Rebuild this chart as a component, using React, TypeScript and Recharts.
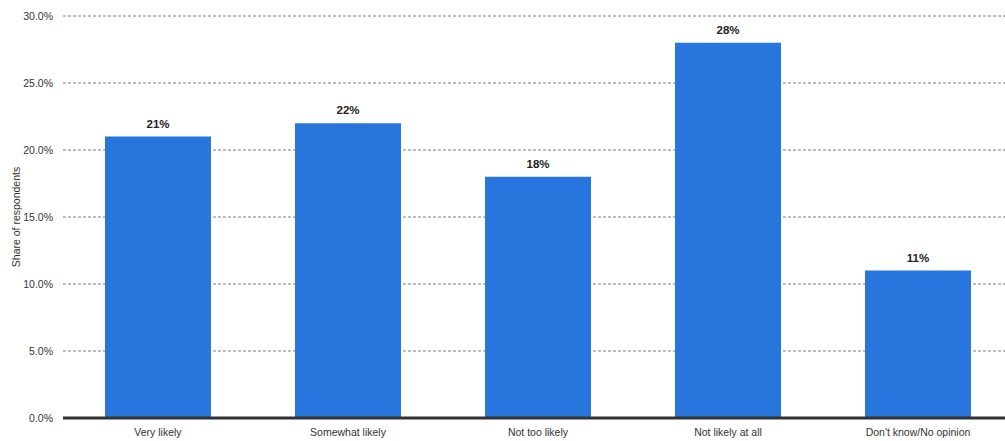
import React from "react";
import { BarChart, Bar, XAxis, YAxis, CartesianGrid, LabelList, Label } from "recharts";

const categories = ["Very likely", "Somewhat likely", "Not too likely", "Not likely at all", "Don't know/No opinion"];
const shares = [21, 22, 18, 28, 11];
const yTicks = [0, 5, 10, 15, 20, 25, 30];

const data = categories.map((c, i) => ({ name: c, value: shares[i] }));

const font = "Liberation Sans, Arial, sans-serif";

export default function App() {
  return (
    <div style={{ position: "fixed", left: 0, top: 0, width: 1005, height: 441, overflow: "hidden", background: "#fff" }}>
      <style>{`html,body{margin:0;padding:0;overflow:hidden;}`}</style>
      <BarChart
        width={1013}
        height={441}
        data={data}
        margin={{ top: 16, right: 0, bottom: 0, left: 0 }}
        barSize={106}
      >
        <CartesianGrid vertical={false} stroke="#7a7a7a" strokeDasharray="3 2" />
        <XAxis
          dataKey="name"
          height={23}
          axisLine={{ stroke: "#333", strokeWidth: 3 }}
          tickLine={false}
          tick={{ fontSize: 10.5, fill: "#333", fontFamily: font }}
          interval={0}
          tickMargin={5}
        />
        <YAxis
          width={63}
          domain={[0, 30]}
          ticks={yTicks}
          axisLine={false}
          tickLine={false}
          tickFormatter={(v: number) => v.toFixed(1) + "%"}
          tick={{ fontSize: 10.5, fill: "#333", fontFamily: font }}
          tickMargin={4}
        >
          <Label
            value="Share of respondents"
            angle={-90}
            position="insideLeft"
            offset={16}
            style={{ fontSize: 10.5, fill: "#333", fontFamily: font, textAnchor: "middle" }}
          />
        </YAxis>
        <Bar dataKey="value" fill="#2876dd" isAnimationActive={false}>
          <LabelList
            dataKey="value"
            position="top"
            offset={9}
            formatter={(v: number) => v + "%"}
            style={{ fontSize: 11.5, fontWeight: "bold", fill: "#222", fontFamily: font }}
          />
        </Bar>
      </BarChart>
    </div>
  );
}
